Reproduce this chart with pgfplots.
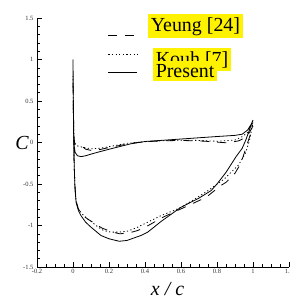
\documentclass[border=0pt]{standalone}
\usepackage{pgfplots}
\pgfplotsset{compat=1.18}
\usepackage{fontspec}
\setmainfont{Liberation Serif}
\usepackage{xcolor}
\begin{document}
\begin{tikzpicture}
\begin{axis}[
  at={(0,0)}, anchor=south west,
  scale only axis, width=252bp, height=249bp,
  xmin=-0.2, xmax=1.2, ymin=-1.5, ymax=1.5,
  axis x line*=bottom, axis y line*=left,
  axis line style={-, line width=0.6bp},
  tick align=inside,
  major tick length=5bp, minor tick length=3bp,
  every tick/.style={line width=0.6bp, black},
  xtick={-0.2,0,0.2,0.4,0.6,0.8,1,1.2},
  xticklabels={-0.2,0,0.2,0.4,0.6,0.8,1,1.2},
  ytick={-1.5,-1,-0.5,0,0.5,1,1.5},
  yticklabels={-1.5,-1,-0.5,0,0.5,1,1.5},
  minor x tick num=3, minor y tick num=4,
  tick label style={font=\fontsize{6.5}{7}\selectfont, text=black!80},
  xticklabel style={yshift=1bp},
  xlabel={\textit{x / c}},
  xlabel style={at={(axis description cs:0.518,0)}, anchor=base, yshift=-28.5bp, font=\fontsize{20}{20}\selectfont},
  ylabel={\textit{C}},
  ylabel style={at={(axis description cs:0,0.5)}, rotate=-90, anchor=center, xshift=-15bp, font=\fontsize{20}{20}\selectfont},
  legend style={at={(axis description cs:0.2817,0.9317)}, anchor=north west, draw=none, fill=none,
    inner sep=0pt, outer sep=0pt, row sep=16.7bp, column sep=10bp,
    nodes={inner sep=0pt, outer sep=0pt}, font=\fontsize{20}{20}\selectfont},
  legend cell align=left,
  legend image code/.code={\draw[#1] (0bp,0bp) -- (29bp,0bp);},
]
% Yeung [24] (dashed)
\addplot[black, line width=0.8bp, dash pattern=on 9bp off 8bp] coordinates {
 (1.0,0.2) (0.98,0.12) (0.95,0.05) (0.92,0.02) (0.86,-0.005) (0.8,0.005) (0.73,0.016) (0.6,0.025) (0.5,0.02) (0.4,0.01) (0.32,-0.01) (0.25,-0.04) (0.18,-0.07) (0.15,-0.085) (0.1,-0.095) (0.07,-0.08) (0.046,-0.04) (0.02,-0.03) (0.01,-0.01) (0.006,0.05) (0.003,0.3) (0.0,0.75)
 (0.003,0.2) (0.006,-0.2) (0.01,-0.5) (0.017,-0.7) (0.03,-0.8) (0.05,-0.87) (0.08,-0.92) (0.11,-0.96) (0.16,-1.03) (0.22,-1.08) (0.26,-1.1) (0.31,-1.09) (0.36,-1.06) (0.41,-1.01) (0.5,-0.9) (0.6,-0.8) (0.64,-0.76) (0.74,-0.66) (0.82,-0.52) (0.85,-0.48) (0.9,-0.37) (0.933,-0.25) (0.96,-0.07) (0.98,0.06) (1.0,0.2)
};
\addlegendentry{\raisebox{4bp}[0pt][0pt]{\colorbox{yellow}{Yeung [24]}}}
% Kouh [7] (dotted)
\addplot[black, line width=0.8bp, dash pattern=on 1.2bp off 2.4bp] coordinates {
 (1.0,0.24) (0.97,0.12) (0.94,0.07) (0.9,0.03) (0.8,0.015) (0.7,0.025) (0.6,0.028) (0.5,0.022) (0.4,0.01) (0.3,-0.01) (0.2,-0.05) (0.15,-0.07) (0.1,-0.075) (0.06,-0.06) (0.03,-0.045) (0.012,-0.03) (0.006,0.0) (0.003,0.3) (0.0,0.8)
 (0.003,0.2) (0.006,-0.2) (0.01,-0.5) (0.017,-0.7) (0.03,-0.8) (0.05,-0.86) (0.08,-0.92) (0.1,-0.95) (0.14,-1.02) (0.17,-1.06) (0.21,-1.08) (0.25,-1.08) (0.3,-1.07) (0.35,-1.03) (0.415,-0.96) (0.49,-0.88) (0.56,-0.82) (0.6,-0.78) (0.67,-0.69) (0.75,-0.58) (0.84,-0.44) (0.92,-0.27) (0.96,-0.12) (0.98,0.02) (1.0,0.24)
};
\addlegendentry{\raisebox{-12bp}[0pt][0pt]{\hspace{5bp}\colorbox{yellow}{Kouh [7]}}}
% Present (solid)
\addplot[black, line width=0.8bp] coordinates {
 (1.0,0.27) (0.99,0.22) (0.97,0.15) (0.94,0.1) (0.9,0.086) (0.8,0.072) (0.7,0.057) (0.6,0.042) (0.5,0.027) (0.4,0.012) (0.32,-0.016) (0.21,-0.076) (0.15,-0.11) (0.1,-0.14) (0.07,-0.16) (0.045,-0.17) (0.025,-0.16) (0.012,-0.12) (0.006,-0.03) (0.003,0.2) (0.001,0.6) (0.0,1.0)
 (0.002,0.5) (0.004,0.0) (0.007,-0.3) (0.011,-0.55) (0.017,-0.72) (0.03,-0.82) (0.044,-0.88) (0.07,-0.96) (0.1,-1.02) (0.155,-1.12) (0.2,-1.16) (0.257,-1.19) (0.3,-1.18) (0.378,-1.12) (0.415,-1.08) (0.45,-1.02) (0.49,-0.95) (0.6,-0.78) (0.7,-0.67) (0.767,-0.58) (0.8,-0.5) (0.85,-0.36) (0.906,-0.17) (0.94,-0.07) (0.96,0.03) (0.98,0.15) (1.0,0.27)
};
\addlegendentry{\raisebox{-6bp}[0pt][0pt]{\hspace{5bp}\colorbox{yellow}{Present}}}
\end{axis}
\pgfresetboundingbox
\path[use as bounding box] (-37bp,-29bp) rectangle (253bp,267bp);
\end{tikzpicture}
\end{document}
